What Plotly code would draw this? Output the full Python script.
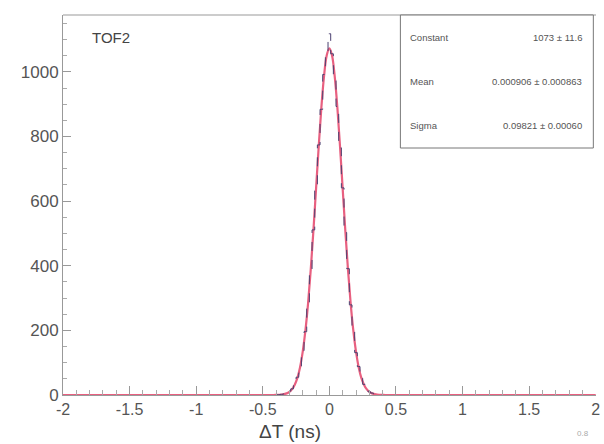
import plotly.graph_objects as go

# Histogram bin centres (ns) and counts
bin_centers = [-0.40, -0.38, -0.36, -0.34, -0.32, -0.30, -0.28, -0.26, -0.24, -0.22,
               -0.20, -0.18, -0.16, -0.14, -0.12, -0.10, -0.08, -0.06, -0.04, -0.02,
               0.00, 0.02, 0.04, 0.06, 0.08, 0.10, 0.12, 0.14, 0.16, 0.18,
               0.20, 0.22, 0.24, 0.26, 0.28, 0.30, 0.32, 0.34, 0.36, 0.38, 0.40]
counts = [0, 1, 2, 3, 6, 11, 19, 31, 55, 84,
          137, 196, 286, 384, 511, 632, 774, 884, 992, 1048,
          1118, 1056, 985, 893, 765, 641, 503, 391, 279, 201,
          131, 88, 52, 33, 17, 10, 6, 3, 2, 1, 1]

# Gaussian fit curve values
fit_x = [-2.0, -0.42, -0.40, -0.36, -0.34, -0.32, -0.30, -0.28, -0.26, -0.24, -0.22,
         -0.20, -0.18, -0.16, -0.14, -0.12, -0.10, -0.08, -0.06, -0.04, -0.02,
         0.00, 0.02, 0.04, 0.06, 0.08, 0.10, 0.12, 0.14, 0.16, 0.18,
         0.20, 0.22, 0.24, 0.26, 0.28, 0.30, 0.32, 0.34, 0.36, 0.40, 0.42, 2.0]
fit_y = [0, 0, 0.3, 1.3, 2.6, 5, 10, 18, 32, 53, 86,
         134, 199, 283, 387, 507, 638, 769, 890, 987, 1051,
         1073, 1051, 987, 890, 769, 638, 507, 387, 283, 199,
         134, 86, 53, 32, 18, 10, 5, 2.6, 1.3, 0.3, 0, 0]

x_ticks = [-2, -1.5, -1, -0.5, 0, 0.5, 1, 1.5, 2]
x_tick_labels = ["-2", "-1.5", "-1", "-0.5", "0", "0.5", "1", "1.5", "2"]
y_ticks = [0, 200, 400, 600, 800, 1000]

stat_names = ["Constant", "Mean", "Sigma"]
stat_values = ["1073 ± 11.6", "0.000906 ± 0.000863", "0.09821 ± 0.00060"]

fig = go.Figure()
fig.add_trace(go.Scatter(x=fit_x, y=fit_y, mode="lines",
                         line=dict(color="#e86080", width=2.2, shape="spline"),
                         showlegend=False))
fig.add_trace(go.Scatter(x=bin_centers, y=counts, mode="lines",
                         line=dict(color="#4a4070", width=1, shape="hvh", dash="dash"),
                         showlegend=False))

font = "Liberation Sans, Arial, sans-serif"
fig.update_layout(
    width=604, height=444,
    margin=dict(l=63, r=4, t=15, b=49),
    paper_bgcolor="white", plot_bgcolor="white",
    font=dict(family=font, color="#444"),
    xaxis=dict(range=[-2, 2.002], tickvals=x_ticks, ticktext=x_tick_labels,
               ticks="inside", ticklen=9, tickcolor="#999",
               minor=dict(ticks="inside", ticklen=5, dtick=0.1, tickcolor="#aaa"),
               showline=True, linecolor="#999", linewidth=1, mirror=False,
               showgrid=False, zeroline=False, tickfont=dict(size=16, color="#555"),
               ticklabeloverflow="allow"),
    yaxis=dict(range=[0, 1176], tickvals=y_ticks,
               ticks="inside", ticklen=8, tickcolor="#999",
               minor=dict(ticks="inside", ticklen=4, dtick=50, tickcolor="#aaa"),
               showline=True, linecolor="#999", linewidth=1,
               showgrid=False, zeroline=False, tickfont=dict(size=17, color="#555")),
)
# top frame line
fig.add_shape(type="line", xref="paper", yref="paper", x0=0, x1=1, y0=1, y1=1,
              line=dict(color="#ccc", width=2))

# x-axis title
fig.add_annotation(text="ΔT (ns)", xref="paper", yref="paper", x=0.425, y=-0.097,
                   xanchor="center", yanchor="middle", showarrow=False,
                   font=dict(size=19, color="#444"))

fig.add_annotation(text="TOF2", xref="paper", yref="paper", x=0.05, y=0.94,
                   xanchor="left", yanchor="middle", showarrow=False,
                   font=dict(size=15, color="#444"))

# stats box
fig.add_shape(type="rect", xref="paper", yref="paper", x0=0.633, x1=0.995, y0=0.65, y1=1.0,
              line=dict(color="#777", width=1), fillcolor="white")
ys = [0.94, 0.825, 0.71]
for name, val, yy in zip(stat_names, stat_values, ys):
    fig.add_annotation(text=name, xref="paper", yref="paper", x=0.648, y=yy,
                       xanchor="left", yanchor="middle", showarrow=False,
                       font=dict(size=9.5, color="#555"))
    fig.add_annotation(text=val, xref="paper", yref="paper", x=0.978, y=yy,
                       xanchor="right", yanchor="middle", showarrow=False,
                       font=dict(size=9.5, color="#555"))

fig.add_annotation(text="0.8", xref="paper", yref="paper", x=0.99, y=-0.118,
                   xanchor="right", yanchor="bottom", showarrow=False,
                   font=dict(size=8, color="#aaa"))

fig.write_html("out.html")
